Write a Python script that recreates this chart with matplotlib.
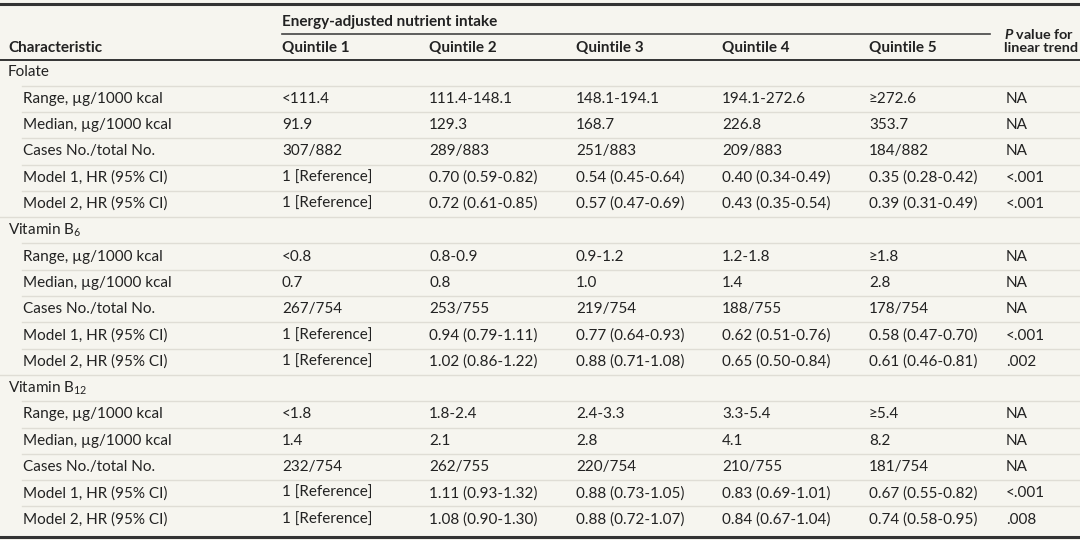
import matplotlib.pyplot as plt

plt.rcParams['font.family'] = ['Lato', 'DejaVu Sans']
plt.rcParams['mathtext.fontset'] = 'custom'
plt.rcParams['mathtext.rm'] = 'Lato'
plt.rcParams['mathtext.it'] = 'Lato:italic:bold'
plt.rcParams['mathtext.bf'] = 'Lato:bold'

# === Table content ===
col_headers = ['Quintile 1', 'Quintile 2', 'Quintile 3', 'Quintile 4', 'Quintile 5']
group_names = ['Folate', 'Vitamin B$_{6}$', 'Vitamin B$_{12}$']
row_labels = ['Range, µg/1000 kcal', 'Median, µg/1000 kcal', 'Cases No./total No.',
              'Model 1, HR (95% CI)', 'Model 2, HR (95% CI)']

folate = [
    ['<111.4', '111.4-148.1', '148.1-194.1', '194.1-272.6', '≥272.6', 'NA'],
    ['91.9', '129.3', '168.7', '226.8', '353.7', 'NA'],
    ['307/882', '289/883', '251/883', '209/883', '184/882', 'NA'],
    ['1 [Reference]', '0.70 (0.59-0.82)', '0.54 (0.45-0.64)', '0.40 (0.34-0.49)', '0.35 (0.28-0.42)', '<.001'],
    ['1 [Reference]', '0.72 (0.61-0.85)', '0.57 (0.47-0.69)', '0.43 (0.35-0.54)', '0.39 (0.31-0.49)', '<.001'],
]
vitamin_b6 = [
    ['<0.8', '0.8-0.9', '0.9-1.2', '1.2-1.8', '≥1.8', 'NA'],
    ['0.7', '0.8', '1.0', '1.4', '2.8', 'NA'],
    ['267/754', '253/755', '219/754', '188/755', '178/754', 'NA'],
    ['1 [Reference]', '0.94 (0.79-1.11)', '0.77 (0.64-0.93)', '0.62 (0.51-0.76)', '0.58 (0.47-0.70)', '<.001'],
    ['1 [Reference]', '1.02 (0.86-1.22)', '0.88 (0.71-1.08)', '0.65 (0.50-0.84)', '0.61 (0.46-0.81)', '.002'],
]
vitamin_b12 = [
    ['<1.8', '1.8-2.4', '2.4-3.3', '3.3-5.4', '≥5.4', 'NA'],
    ['1.4', '2.1', '2.8', '4.1', '8.2', 'NA'],
    ['232/754', '262/755', '220/754', '210/755', '181/754', 'NA'],
    ['1 [Reference]', '1.11 (0.93-1.32)', '0.88 (0.73-1.05)', '0.83 (0.69-1.01)', '0.67 (0.55-0.82)', '<.001'],
    ['1 [Reference]', '1.08 (0.90-1.30)', '0.88 (0.72-1.07)', '0.84 (0.67-1.04)', '0.74 (0.58-0.95)', '.008'],
]
groups = [folate, vitamin_b6, vitamin_b12]

# === Layout ===
bg = '#f6f5ef'
ink = '#222222'
sep = '#dfddd5'
col_x = [282, 429, 576, 722, 869, 1006]
row_h = 26.3
y0 = 72.5
fs = 11

fig = plt.figure(figsize=(10.8, 5.4), dpi=100, facecolor=bg)
ax = fig.add_axes([0, 0, 1, 1])
ax.set_xlim(0, 1080)
ax.set_ylim(540, 0)
ax.axis('off')

# header
ax.text(col_x[0], 22, 'Energy-adjusted nutrient intake', fontsize=fs, fontweight='bold',
        color=ink, va='center')
ax.plot([col_x[0], 990], [34, 34], color='#444444', lw=1.2)
ax.text(8, 47.5, 'Characteristic', fontsize=fs, fontweight='bold', color=ink, va='center')
for x, h in zip(col_x, col_headers):
    ax.text(x, 47.5, h, fontsize=fs, fontweight='bold', color=ink, va='center')
ax.text(col_x[5] - 2, 34, '$\\mathit{P}$ value for', fontsize=10.4, fontweight='bold',
        color=ink, va='center')
ax.text(col_x[5] - 2, 48, 'linear trend', fontsize=10.4, fontweight='bold',
        color=ink, va='center')

ax.plot([0, 1080], [3.5, 3.5], color='#333333', lw=2.2)
ax.plot([0, 1080], [60, 60], color='#333333', lw=1.4)
ax.plot([0, 1080], [536.5, 536.5], color='#333333', lw=2.2)

# body
i = 0
for gi, (name, rows) in enumerate(zip(group_names, groups)):
    y = y0 + i * row_h
    if gi > 0:
        ax.plot([0, 1080], [y - row_h / 2, y - row_h / 2], color=sep, lw=1)
    ax.text(8, y, name, fontsize=fs, color=ink, va='center')
    i += 1
    for label, vals in zip(row_labels, rows):
        y = y0 + i * row_h
        ax.plot([22, 1080], [y - row_h / 2, y - row_h / 2], color=sep, lw=1)
        ax.text(23, y, label, fontsize=fs, color=ink, va='center')
        for x, v in zip(col_x, vals):
            ax.text(x, y, v, fontsize=fs, color=ink, va='center')
        i += 1

fig.savefig('out.png', dpi=100, facecolor=bg)
